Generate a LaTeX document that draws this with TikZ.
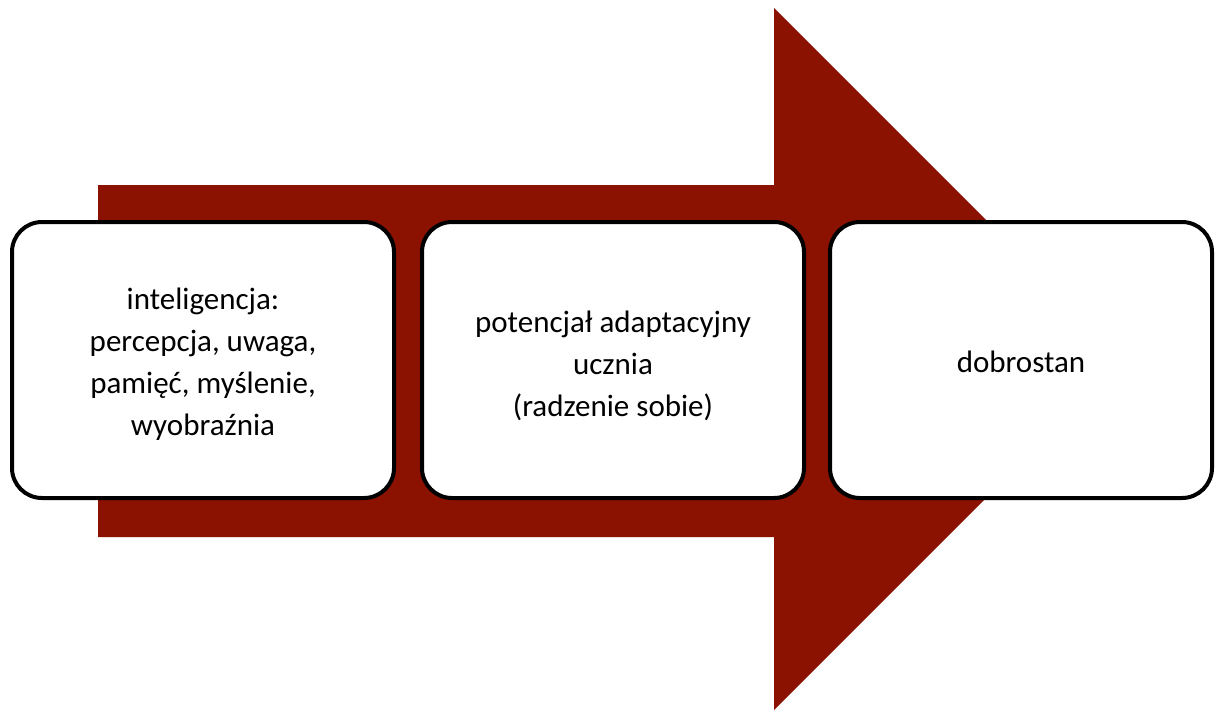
\documentclass[tikz,border=0pt]{standalone}
\usepackage{fontspec}
\setmainfont{Carlito}
\definecolor{arrowred}{RGB}{139,17,0}
\begin{document}
\begin{tikzpicture}[x=1pt,y=-1pt,
  stagebox/.style={draw=black, line width=4pt, fill=white, rounded corners=30pt,
    minimum width=382pt, minimum height=276pt, align=center, inner sep=0pt,
    font=\fontsize{31}{42}\selectfont}]
\useasboundingbox (0,0) rectangle (1215,710);
\fill[arrowred] (98,185) -- (774,185) -- (774,8) -- (1125,359) -- (774,710) -- (774,537) -- (98,537) -- cycle;
\node[stagebox] (b1) at (203,360) {};
\node[stagebox] (b2) at (613,360) {};
\node[stagebox] (b3) at (1021,360) {};
\node[font=\fontsize{31}{42}\selectfont, align=center, inner sep=0pt] (t1) at (203,364) {inteligencja:\\percepcja, uwaga,\\pamięć, myślenie,\\wyobraźnia};
\node[font=\fontsize{31}{42}\selectfont, align=center, inner sep=0pt] (t2) at (613,366) {potencjał adaptacyjny\\ucznia\\(radzenie sobie)};
\node[font=\fontsize{31}{42}\selectfont, align=center, inner sep=0pt] (t3) at (1021,362) {dobrostan};
\end{tikzpicture}
\end{document}
